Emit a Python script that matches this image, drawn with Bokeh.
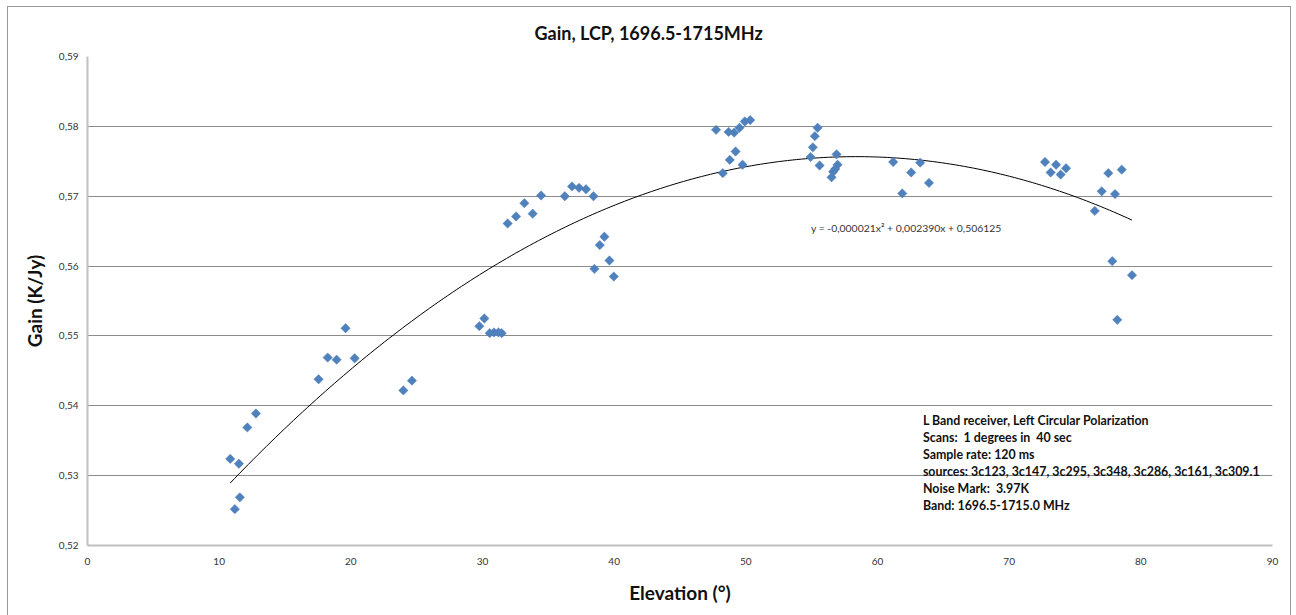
import numpy as np
from bokeh.plotting import figure
from bokeh.models import Range1d, FixedTicker, Label
from bokeh.embed import file_html
from bokeh.resources import INLINE

# Measured gain vs. elevation (L band, LCP, 1696.5-1715 MHz)
elevation = [10.84, 11.19, 11.50, 11.57, 12.14, 12.79,
             17.55, 18.24, 18.92, 19.60, 20.29,
             23.99, 24.64,
             29.76, 30.14, 30.55, 30.87, 31.21, 31.46,
             31.91, 32.55, 33.18, 33.81, 34.45, 36.25, 36.80, 37.33, 37.86, 38.43,
             38.50, 38.91, 39.26, 39.64, 39.97,
             47.74, 48.25, 48.69, 48.78, 49.11, 49.22, 49.52, 49.75, 49.92, 50.33,
             54.92, 55.09, 55.24, 55.45, 55.60, 56.51, 56.63, 56.79, 56.89, 56.97,
             61.19, 61.88, 62.56, 63.24, 63.91,
             72.72, 73.15, 73.56, 73.91, 74.32, 76.50, 77.03, 77.53, 77.83, 78.04,
             78.21, 78.55, 79.33]
gain = [0.5324, 0.5252, 0.5317, 0.5269, 0.5369, 0.5389,
        0.5438, 0.5469, 0.5466, 0.5511, 0.5468,
        0.5422, 0.5436,
        0.5514, 0.5525, 0.5504, 0.5505, 0.5505, 0.5504,
        0.5661, 0.5671, 0.5690, 0.5675, 0.5701, 0.5700, 0.5714, 0.5712, 0.5710, 0.5700,
        0.5596, 0.5630, 0.5642, 0.5608, 0.5585,
        0.5795, 0.5733, 0.5792, 0.5752, 0.5791, 0.5764, 0.5798, 0.5745, 0.5807, 0.5809,
        0.5756, 0.5770, 0.5786, 0.5798, 0.5744, 0.5727, 0.5735, 0.5739, 0.5760, 0.5745,
        0.5749, 0.5704, 0.5734, 0.5748, 0.5719,
        0.5749, 0.5734, 0.5745, 0.5731, 0.5740, 0.5679, 0.5707, 0.5733, 0.5607, 0.5703,
        0.5523, 0.5738, 0.5587]

x_ticks = [0, 10, 20, 30, 40, 50, 60, 70, 80, 90]
x_tick_labels = ["0", "10", "20", "30", "40", "50", "60", "70", "80", "90"]
y_ticks = [0.52, 0.53, 0.54, 0.55, 0.56, 0.57, 0.58, 0.59]
y_tick_labels = ["0,52", "0,53", "0,54", "0,55", "0,56", "0,57", "0,58", "0,59"]

title_text = "Gain, LCP, 1696.5-1715MHz"
x_title = "Elevation (°)"
y_title = "Gain (K/Jy)"
fit_text = "y = -0,000021x² + 0,002390x + 0,506125"
# no-break spaces keep the double spacing of the receiver notes
info_lines = [
    "L Band receiver, Left Circular Polarization",
    "Scans:\u00a0 1 degrees in\u00a0 40 sec",
    "Sample rate: 120 ms",
    "sources: 3c123, 3c147, 3c295, 3c348, 3c286, 3c161, 3c309.1",
    "Noise Mark:\u00a0 3.97K",
    "Band: 1696.5-1715.0 MHz",
]

FONT = "Lato"

p = figure(width=1282, height=608,
           x_range=Range1d(0, 90), y_range=Range1d(0.52, 0.59),
           output_backend="svg", toolbar_location=None,
           min_border_left=79, min_border_right=18,
           min_border_top=48, min_border_bottom=70,
           title=title_text)
p.margin = (7, 0, 0, 8)
p.styles = {"outline": "1px solid #9a9a9a"}
p.outline_line_color = None
p.background_fill_color = "white"
p.border_fill_color = "white"

# title centred on the whole chart area rather than the plot frame
p.title.align = "left"
p.title.offset = 447
p.title.text_font = FONT
p.title.text_font_size = "18px"
p.title.text_font_style = "bold"
p.title.text_color = "#111111"
p.title.standoff = 25

# axes
p.xaxis.ticker = FixedTicker(ticks=x_ticks)
p.xaxis.major_label_overrides = dict(zip(x_ticks, x_tick_labels))
p.yaxis.ticker = FixedTicker(ticks=y_ticks)
p.yaxis.major_label_overrides = dict(zip(y_ticks, y_tick_labels))
for ax in (p.xaxis, p.yaxis):
    ax.major_tick_in = 0
    ax.major_tick_out = 0
    ax.minor_tick_in = 0
    ax.minor_tick_out = 0
    ax.axis_line_color = "#c0c0c0"
    ax.axis_line_width = 2
    ax.major_label_text_font = FONT
    ax.major_label_text_font_size = "10px"
    ax.major_label_text_color = "#333333"
    ax.axis_label_text_font = FONT
    ax.axis_label_text_font_size = "19px"
    ax.axis_label_text_font_style = "bold"
    ax.axis_label_text_color = "#111111"
p.xaxis.major_label_standoff = 12
p.yaxis.major_label_standoff = 9
p.xaxis.axis_label = x_title
p.yaxis.axis_label = y_title
p.xaxis.axis_label_standoff = 13
p.yaxis.axis_label_standoff = 10

p.xgrid.visible = False
p.ygrid.grid_line_color = "#8c8c8c"
p.ygrid.grid_line_width = 1

# quadratic trendline fitted to the measurements
coef = np.polyfit(elevation, gain, 2)
xf = np.linspace(min(elevation), max(elevation), 200)
p.line(xf, np.polyval(coef, xf), line_color="black", line_width=1)

# measurements
p.scatter(elevation, gain, marker="square", angle=np.pi / 4, size=6.6,
          fill_color="#4F81BD", line_color="#4F81BD", line_width=0.5)

p.add_layout(Label(x=54.94, y=0.5654, text=fit_text, text_baseline="middle",
                   text_font=FONT, text_font_size="10.4px", text_color="#333333"))
p.add_layout(Label(x=63.45, y=0.5390, text="\n".join(info_lines), text_baseline="top",
                   text_font=FONT, text_font_size="12.4px", text_font_style="bold",
                   text_color="#111111", text_line_height=1.13))

open("out.html", "w").write(file_html(p, INLINE))
